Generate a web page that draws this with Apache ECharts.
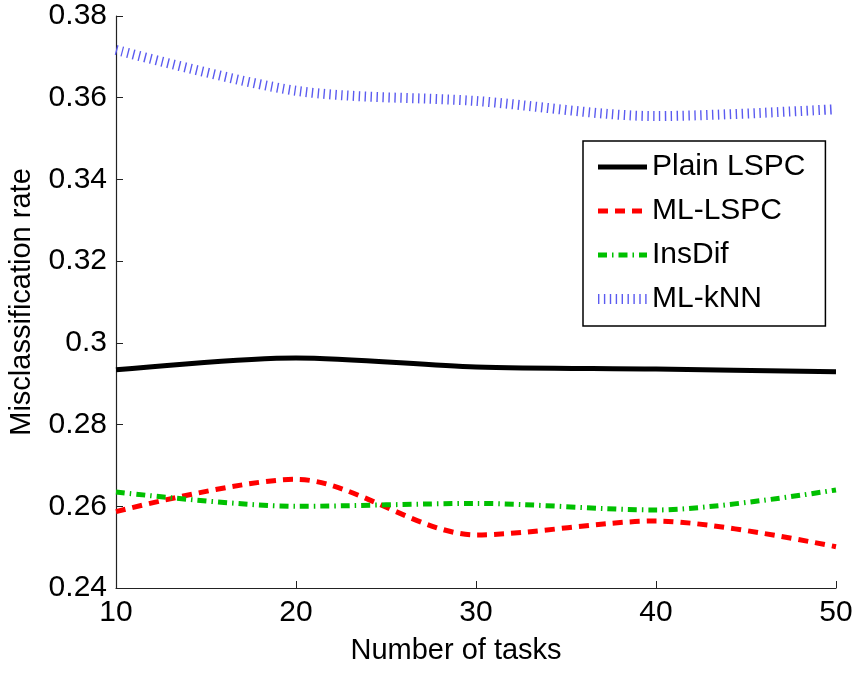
<!DOCTYPE html>
<html>
<head>
<meta charset="utf-8">
<script src="https://cdn.jsdelivr.net/npm/echarts@6/dist/echarts.min.js"></script>
<style>
  html, body { margin: 0; padding: 0; background: #fff; }
  #chart { width: 859px; height: 675px; }
</style>
</head>
<body>
<div id="chart"></div>
<script>
var tasks = [10, 20, 30, 40, 50];
var plainLSPC = [0.2934, 0.2963, 0.2941, 0.2936, 0.2929];
var mlLSPC = [0.2587, 0.2666, 0.2530, 0.2564, 0.2501];
var insDif = [0.2635, 0.2600, 0.2607, 0.2591, 0.2640];
var mlKNN = [0.3717, 0.3617, 0.3592, 0.3555, 0.3572];
var yTicks = [0.24, 0.26, 0.28, 0.3, 0.32, 0.34, 0.36, 0.38];

var font = 'Liberation Sans, Arial, sans-serif';

// name, color, width, dash
var styles = {
  'Plain LSPC': ['#000000', 5, 'solid'],
  'ML-LSPC': ['#ff0000', 5, [10, 7]],
  'InsDif': ['#00c000', 5, [9, 5, 1.5, 5]],
  'ML-kNN': ['#5b5bf0', 10, [1.4, 4.5]]
};

function pairs(vals) {
  var out = [];
  for (var i = 0; i < tasks.length; i++) {
    out.push([tasks[i], vals[i]]);
  }
  return out;
}

function lineStyleOf(name) {
  var s = styles[name];
  return { color: s[0], width: s[1], type: s[2], cap: 'butt' };
}

function lineSeries(name, vals) {
  return {
    name: name,
    type: 'line',
    data: pairs(vals),
    smooth: 0.3,
    symbol: 'none',
    lineStyle: lineStyleOf(name),
    itemStyle: { color: styles[name][0] }
  };
}

function legendItem(name) {
  return { name: name, lineStyle: lineStyleOf(name) };
}

var chart = echarts.init(document.getElementById('chart'), null, { renderer: 'canvas' });

chart.setOption({
  backgroundColor: '#ffffff',
  animation: false,
  grid: { left: 116, right: 23, top: 16, bottom: 87, outerBoundsMode: 'none', containLabel: false },
  xAxis: {
    type: 'value',
    min: 10,
    max: 50,
    interval: 10,
    name: 'Number of tasks',
    nameLocation: 'middle',
    nameGap: 48,
    nameTextStyle: { fontFamily: font, fontSize: 29, color: '#000', padding: [0, 40, 0, 0] },
    axisLine: { lineStyle: { color: '#222', width: 1.2 } },
    axisTick: { inside: true, length: 7, lineStyle: { color: '#222' } },
    axisLabel: { fontFamily: font, fontSize: 30, color: '#000', margin: 10 },
    splitLine: { show: false }
  },
  yAxis: {
    type: 'value',
    min: yTicks[0],
    max: yTicks[yTicks.length - 1],
    interval: 0.02,
    name: 'Misclassification rate',
    nameLocation: 'middle',
    nameGap: 80,
    nameTextStyle: { fontFamily: font, fontSize: 29, color: '#000' },
    axisLine: { show: true, lineStyle: { color: '#222', width: 1.2 } },
    axisTick: { show: true, inside: true, length: 7, lineStyle: { color: '#222' } },
    axisLabel: {
      fontFamily: font, fontSize: 30, color: '#000', margin: 9,
      formatter: function (v) { return String(+v.toFixed(2)); }
    },
    splitLine: { show: false }
  },
  legend: {
    orient: 'vertical',
    left: 583,
    top: 141,
    padding: [11, 20, 12, 10],
    itemGap: 14,
    itemWidth: 49,
    itemHeight: 30,
    borderColor: '#000',
    borderWidth: 1.5,
    borderRadius: 0,
    backgroundColor: '#fff',
    itemStyle: { opacity: 0 },
    textStyle: { fontFamily: font, fontSize: 30, lineHeight: 30, color: '#000' },
    data: ['Plain LSPC', 'ML-LSPC', 'InsDif', 'ML-kNN'].map(legendItem)
  },
  series: [
    lineSeries('Plain LSPC', plainLSPC),
    lineSeries('ML-LSPC', mlLSPC),
    lineSeries('InsDif', insDif),
    lineSeries('ML-kNN', mlKNN)
  ]
});
</script>
</body>
</html>
